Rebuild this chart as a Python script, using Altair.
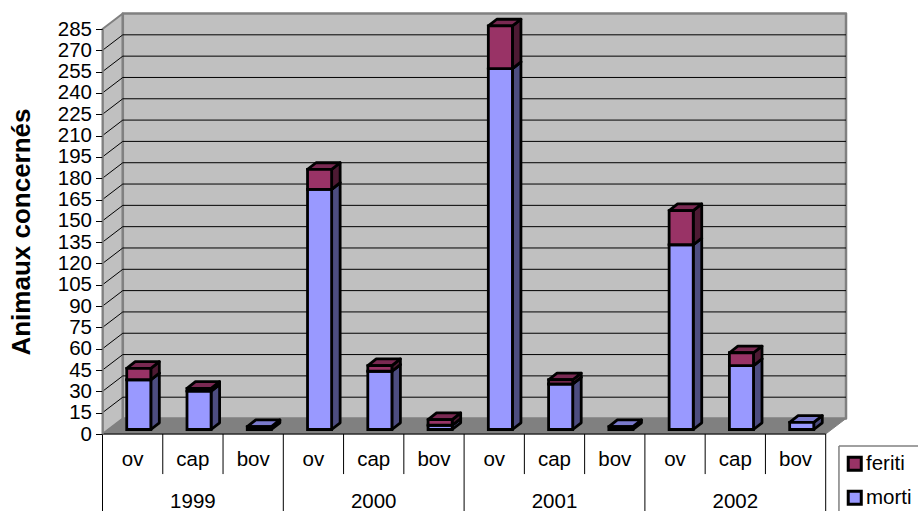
import altair as alt
import pandas as pd

# Animals affected per year and species
years = ["1999", "2000", "2001", "2002"]
species = ["ov", "cap", "bov"]
morti = [35, 27, 2, 169, 41, 3, 254, 32, 2, 130, 45, 5]
feriti = [8, 2, 0, 14, 4, 4, 30, 3, 0, 24, 9, 0]
y_ticks = list(range(0, 286, 15))

FONT = "Liberation Sans"
FONT_SIZE = 20.5
TITLE_SIZE = 26
EDGE = 2.8

# Pseudo-3D geometry, in data units of the two scales
WALL_DX, WALL_DY = 0.337, 10.9
BAR_DX, BAR_DY = 0.141, 4.7
BAR_W, BAR_SHIFT, BAR_BASE = 0.4, 0.102, 3.17
SEP_LOW, SEP_HIGH = -28.2, -56
LEGEND_LEFT, LEGEND_RIGHT, LEGEND_TOP = 12.22, 13.6, -8.44
N = len(morti)


def side_face(face, left, bottom, top, dx, dy):
    return [
        dict(face=face, x=left, y=bottom, y2=top),
        dict(face=face, x=left + dx, y=bottom + dy, y2=top + dy),
    ]


def flat_face(face, left, right, level, dx, dy):
    return [
        dict(face=face, x=left, y=level, y2=level),
        dict(face=face, x=left + dx, y=level, y2=level + dy),
        dict(face=face, x=right, y=level, y2=level + dy),
        dict(face=face, x=right + dx, y=level + dy, y2=level + dy),
    ]


fronts, sides_m, tops_m, sides_f, tops_f = [], [], [], [], []
for i in range(N):
    left = i + 0.5 + BAR_SHIFT - BAR_W / 2
    right = left + BAR_W
    mid = BAR_BASE + morti[i]
    top = mid + feriti[i]
    fronts.append(dict(serie="morti", x=left, x2=right, y=BAR_BASE, y2=mid))
    sides_m += side_face(f"m{i}", right, BAR_BASE, mid, BAR_DX, BAR_DY)
    tops_m += flat_face(f"m{i}", left, right, mid, BAR_DX, BAR_DY)
    if feriti[i] > 0:
        fronts.append(dict(serie="feriti", x=left, x2=right, y=mid, y2=top))
        sides_f += side_face(f"f{i}", right, mid, top, BAR_DX, BAR_DY)
        tops_f += flat_face(f"f{i}", left, right, top, BAR_DX, BAR_DY)

x_scale = alt.Scale(domain=[0, N], nice=False, zero=False)
y_scale = alt.Scale(domain=[0, 285], nice=False, zero=False)

y_axis_spec = alt.Axis(
    values=y_ticks,
    title="Animaux concernés",
    titleFont=FONT,
    titleFontSize=TITLE_SIZE,
    titleFontWeight="bold",
    titleColor="black",
    titlePadding=23,
    labelFont=FONT,
    labelFontSize=FONT_SIZE,
    labelColor="black",
    labelPadding=4,
    labelOverlap=False,
    labelFlush=False,
    tickColor="black",
    tickSize=7,
    domainColor="#808080",
    domainWidth=1.5,
    grid=False,
    zindex=1,
)
x_axis_spec = alt.Axis(
    values=[], title=None, labels=False, ticks=False, grid=False, domain=False
)


def X(field="x:Q"):
    return alt.X(field, scale=x_scale, axis=x_axis_spec)


def Y(field="y:Q", **extra):
    return alt.Y(field, scale=y_scale, axis=y_axis_spec, title="Animaux concernés", **extra)


def face_layer(rows, fill, stroke="black", width=EDGE):
    return (
        alt.Chart(pd.DataFrame(rows))
        .mark_area(fill=fill, stroke=stroke, strokeWidth=width, strokeJoin="round", opacity=1)
        .encode(x=X(), y=Y(stack=None), y2="y2:Q", detail="face:N")
    )


def rule_layer(rows, color="black", width=1):
    return (
        alt.Chart(pd.DataFrame(rows))
        .mark_rule(color=color, strokeWidth=width)
        .encode(x=X(), x2="x2:Q", y=Y(), y2="y2:Q")
    )


def text_layer(rows):
    return (
        alt.Chart(pd.DataFrame(rows))
        .mark_text(font=FONT, fontSize=FONT_SIZE, color="black", baseline="middle", align="center")
        .encode(x=X(), y=Y(), text="label:N")
    )


# Walls and floor of the box
floor = face_layer(flat_face("floor", 0, N, 0, WALL_DX, WALL_DY), "#808080", "#808080", 1)
left_wall = face_layer(side_face("left", 0, 0, 285, WALL_DX, WALL_DY), "#C0C0C0", "#808080", 2)
back_wall = face_layer(
    [
        dict(face="back", x=WALL_DX, y=WALL_DY, y2=285 + WALL_DY),
        dict(face="back", x=N + WALL_DX, y=WALL_DY, y2=285 + WALL_DY),
    ],
    "#C0C0C0",
    "#808080",
    2.5,
)

# Gridlines on the back wall and their slanted continuation on the side wall
inner = [v for v in y_ticks if 0 < v < 285]
grid = rule_layer(
    [dict(x=WALL_DX, x2=N + WALL_DX, y=v + WALL_DY, y2=v + WALL_DY) for v in inner]
    + [dict(x=0, x2=WALL_DX, y=v, y2=v + WALL_DY) for v in inner]
)

# Two-level category table below the floor
baseline = rule_layer([dict(x=0, x2=N, y=0, y2=0)])
separators = rule_layer(
    [
        dict(x=i, x2=i, y=0, y2=SEP_HIGH if i % len(species) == 0 else SEP_LOW)
        for i in range(N + 1)
    ]
)
labels = text_layer(
    [dict(x=i + 0.5, y=-18.2, label=species[i % len(species)]) for i in range(N)]
    + [dict(x=(j + 0.5) * len(species), y=-47.8, label=year) for j, year in enumerate(years)]
)

# The legend frame runs past the right and bottom edges of the page
legend_frame = rule_layer(
    [
        dict(x=LEGEND_LEFT, x2=LEGEND_RIGHT, y=LEGEND_TOP, y2=LEGEND_TOP),
        dict(x=LEGEND_LEFT, x2=LEGEND_LEFT, y=LEGEND_TOP, y2=SEP_HIGH),
    ],
    "#808080",
    1.5,
)

front_faces = (
    alt.Chart(pd.DataFrame(fronts))
    .mark_rect(stroke="black", strokeWidth=EDGE)
    .encode(
        x=X(),
        x2="x2:Q",
        y=Y(),
        y2="y2:Q",
        fill=alt.Fill(
            "serie:N",
            scale=alt.Scale(domain=["feriti", "morti"], range=["#993366", "#9999FF"]),
            legend=alt.Legend(
                title=None,
                orient="none",
                legendX=736.5,
                legendY=419,
                padding=5.5,
                symbolType="square",
                symbolSize=170,
                symbolStrokeColor="black",
                symbolStrokeWidth=3,
                labelFont=FONT,
                labelFontSize=FONT_SIZE,
                labelColor="black",
                labelOffset=1,
                rowPadding=8,
            ),
        ),
    )
)

chart = (
    alt.layer(
        left_wall,
        floor,
        back_wall,
        grid,
        baseline,
        separators,
        labels,
        legend_frame,
        face_layer(sides_m, "#4D4D80"),
        face_layer(tops_m, "#7A7ACC"),
        face_layer(sides_f, "#4D1A33"),
        face_layer(tops_f, "#7A2952"),
        front_faces,
    )
    .properties(
        width=723.2,
        height=405,
        padding={"left": 102.5, "top": 29, "right": 92.3, "bottom": 77},
        autosize=alt.AutoSizeParams(type="none"),
        background="white",
    )
    .configure_view(stroke=None)
)

chart.save("out.html", embed_options={"renderer": "svg", "actions": False})
